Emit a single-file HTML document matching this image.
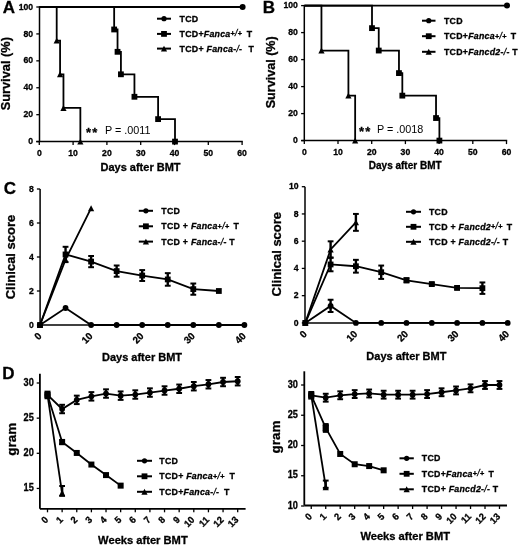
<!DOCTYPE html>
<html><head><meta charset="utf-8"><style>
html,body{margin:0;padding:0;background:#fff;}
svg{display:block;filter:blur(0.35px);}
text{font-family:"Liberation Sans", sans-serif;fill:#000;}
text[font-weight="bold"]{stroke:#000;stroke-width:0.3px;}
</style></head><body>
<svg width="520" height="545" viewBox="0 0 520 545">
<rect width="520" height="545" fill="#fff"/>
<text transform="translate(2.80 13.20)" font-size="17" font-weight="bold" text-anchor="start">A</text>
<line x1="39.50" y1="6.30" x2="39.50" y2="141.60" stroke="#000" stroke-width="1.5"/>
<line x1="36.30" y1="141.60" x2="39.50" y2="141.60" stroke="#000" stroke-width="1.3"/>
<text transform="translate(33.10 144.20) scale(0.96 1)" font-size="9.0" font-weight="bold" text-anchor="end">0</text>
<line x1="36.30" y1="114.68" x2="39.50" y2="114.68" stroke="#000" stroke-width="1.3"/>
<text transform="translate(33.10 117.28) scale(0.96 1)" font-size="9.0" font-weight="bold" text-anchor="end">20</text>
<line x1="36.30" y1="87.76" x2="39.50" y2="87.76" stroke="#000" stroke-width="1.3"/>
<text transform="translate(33.10 90.36) scale(0.96 1)" font-size="9.0" font-weight="bold" text-anchor="end">40</text>
<line x1="36.30" y1="60.84" x2="39.50" y2="60.84" stroke="#000" stroke-width="1.3"/>
<text transform="translate(33.10 63.44) scale(0.96 1)" font-size="9.0" font-weight="bold" text-anchor="end">60</text>
<line x1="36.30" y1="33.92" x2="39.50" y2="33.92" stroke="#000" stroke-width="1.3"/>
<text transform="translate(33.10 36.52) scale(0.96 1)" font-size="9.0" font-weight="bold" text-anchor="end">80</text>
<line x1="36.30" y1="7.00" x2="39.50" y2="7.00" stroke="#000" stroke-width="1.3"/>
<text transform="translate(33.10 9.60) scale(0.96 1)" font-size="9.0" font-weight="bold" text-anchor="end">100</text>
<line x1="36.30" y1="141.60" x2="242.80" y2="141.60" stroke="#000" stroke-width="1.5"/>
<line x1="39.30" y1="141.60" x2="39.30" y2="145.10" stroke="#000" stroke-width="1.3"/>
<text transform="translate(39.30 155.50) scale(0.96 1)" font-size="9.0" font-weight="bold" text-anchor="middle">0</text>
<line x1="73.10" y1="141.60" x2="73.10" y2="145.10" stroke="#000" stroke-width="1.3"/>
<text transform="translate(73.10 155.50) scale(0.96 1)" font-size="9.0" font-weight="bold" text-anchor="middle">10</text>
<line x1="106.90" y1="141.60" x2="106.90" y2="145.10" stroke="#000" stroke-width="1.3"/>
<text transform="translate(106.90 155.50) scale(0.96 1)" font-size="9.0" font-weight="bold" text-anchor="middle">20</text>
<line x1="140.70" y1="141.60" x2="140.70" y2="145.10" stroke="#000" stroke-width="1.3"/>
<text transform="translate(140.70 155.50) scale(0.96 1)" font-size="9.0" font-weight="bold" text-anchor="middle">30</text>
<line x1="174.50" y1="141.60" x2="174.50" y2="145.10" stroke="#000" stroke-width="1.3"/>
<text transform="translate(174.50 155.50) scale(0.96 1)" font-size="9.0" font-weight="bold" text-anchor="middle">40</text>
<line x1="208.30" y1="141.60" x2="208.30" y2="145.10" stroke="#000" stroke-width="1.3"/>
<text transform="translate(208.30 155.50) scale(0.96 1)" font-size="9.0" font-weight="bold" text-anchor="middle">50</text>
<line x1="242.10" y1="141.60" x2="242.10" y2="145.10" stroke="#000" stroke-width="1.3"/>
<text transform="translate(242.10 155.50) scale(0.96 1)" font-size="9.0" font-weight="bold" text-anchor="middle">60</text>
<text transform="translate(140.50 171.00)" font-size="11" font-weight="bold" text-anchor="middle">Days after BMT</text>
<text transform="translate(10.40 73.70) rotate(-90)" font-size="12.8" font-weight="bold" text-anchor="middle">Survival (%)</text>
<polyline points="39.30,7.00 242.10,7.00" fill="none" stroke="#000" stroke-width="1.8" stroke-linejoin="miter"/>
<circle cx="242.60" cy="7.00" r="3" fill="#000"/>
<polyline points="39.80,7.00 56.70,7.00 56.70,40.65 60.08,40.65 60.08,74.30 63.46,74.30 63.46,107.95 80.36,107.95 80.36,141.60" fill="none" stroke="#000" stroke-width="1.8" stroke-linejoin="miter"/>
<polygon points="53.60,43.59 59.80,43.59 56.70,37.70" fill="#000"/>
<polygon points="56.98,77.24 63.18,77.24 60.08,71.35" fill="#000"/>
<polygon points="60.36,110.89 66.56,110.89 63.46,105.00" fill="#000"/>
<polygon points="77.26,144.54 83.46,144.54 80.36,138.66" fill="#000"/>
<polyline points="39.80,7.00 114.16,7.00 114.16,29.48 117.54,29.48 117.54,51.82 120.92,51.82 120.92,74.30 134.44,74.30 134.44,96.78 158.10,96.78 158.10,119.12 175.00,119.12 175.00,141.60" fill="none" stroke="#000" stroke-width="1.8" stroke-linejoin="miter"/>
<rect x="111.26" y="26.58" width="5.8" height="5.8" fill="#000"/>
<rect x="114.64" y="48.92" width="5.8" height="5.8" fill="#000"/>
<rect x="118.02" y="71.40" width="5.8" height="5.8" fill="#000"/>
<rect x="131.54" y="93.88" width="5.8" height="5.8" fill="#000"/>
<rect x="155.20" y="116.22" width="5.8" height="5.8" fill="#000"/>
<rect x="172.10" y="138.70" width="5.8" height="5.8" fill="#000"/>
<text transform="translate(86.00 137.20)" font-size="13" font-weight="bold" text-anchor="start" letter-spacing="1.2">**</text>
<text transform="translate(105.00 133.80)" font-size="10.8" font-weight="normal" text-anchor="start">P = .0011</text>
<line x1="157.00" y1="18.70" x2="171.00" y2="18.70" stroke="#000" stroke-width="2.0"/>
<circle cx="164.00" cy="18.70" r="2.6" fill="#000"/>
<text transform="translate(179.60 21.60)" font-size="8.8" font-weight="bold" text-anchor="start" letter-spacing="0.25">TCD</text>
<line x1="157.00" y1="33.90" x2="171.00" y2="33.90" stroke="#000" stroke-width="2.0"/>
<rect x="161.10" y="31.00" width="5.8" height="5.8" fill="#000"/>
<text transform="translate(179.60 36.80)" font-size="8.8" font-weight="bold" text-anchor="start" letter-spacing="0.25">TCD+<tspan font-style="italic">Fanca</tspan><tspan font-size="7.4" dy="-0.5">+</tspan><tspan font-style="italic" font-weight="normal">/</tspan><tspan font-size="7.4">+</tspan><tspan dy="0.5"> </tspan><tspan dx="1.6">T</tspan></text>
<line x1="157.00" y1="48.60" x2="171.00" y2="48.60" stroke="#000" stroke-width="2.0"/>
<polygon points="160.90,51.55 167.10,51.55 164.00,45.66" fill="#000"/>
<text transform="translate(179.60 51.50)" font-size="8.8" font-weight="bold" text-anchor="start" letter-spacing="0.25">TCD+ <tspan font-style="italic">Fanca</tspan>-<tspan font-style="italic" font-weight="normal">/</tspan>- <tspan dx="3.6">T</tspan></text>
<text transform="translate(262.80 13.20)" font-size="17" font-weight="bold" text-anchor="start">B</text>
<line x1="304.30" y1="4.90" x2="304.30" y2="140.60" stroke="#000" stroke-width="1.5"/>
<line x1="301.10" y1="140.60" x2="304.30" y2="140.60" stroke="#000" stroke-width="1.3"/>
<text transform="translate(297.90 143.20) scale(0.96 1)" font-size="9.0" font-weight="bold" text-anchor="end">0</text>
<line x1="301.10" y1="113.60" x2="304.30" y2="113.60" stroke="#000" stroke-width="1.3"/>
<text transform="translate(297.90 116.20) scale(0.96 1)" font-size="9.0" font-weight="bold" text-anchor="end">20</text>
<line x1="301.10" y1="86.60" x2="304.30" y2="86.60" stroke="#000" stroke-width="1.3"/>
<text transform="translate(297.90 89.20) scale(0.96 1)" font-size="9.0" font-weight="bold" text-anchor="end">40</text>
<line x1="301.10" y1="59.60" x2="304.30" y2="59.60" stroke="#000" stroke-width="1.3"/>
<text transform="translate(297.90 62.20) scale(0.96 1)" font-size="9.0" font-weight="bold" text-anchor="end">60</text>
<line x1="301.10" y1="32.60" x2="304.30" y2="32.60" stroke="#000" stroke-width="1.3"/>
<text transform="translate(297.90 35.20) scale(0.96 1)" font-size="9.0" font-weight="bold" text-anchor="end">80</text>
<line x1="301.10" y1="5.60" x2="304.30" y2="5.60" stroke="#000" stroke-width="1.3"/>
<text transform="translate(297.90 8.20) scale(0.96 1)" font-size="9.0" font-weight="bold" text-anchor="end">100</text>
<line x1="301.30" y1="140.60" x2="507.20" y2="140.60" stroke="#000" stroke-width="1.5"/>
<line x1="304.30" y1="140.60" x2="304.30" y2="144.10" stroke="#000" stroke-width="1.3"/>
<text transform="translate(304.30 154.50) scale(0.96 1)" font-size="9.0" font-weight="bold" text-anchor="middle">0</text>
<line x1="338.00" y1="140.60" x2="338.00" y2="144.10" stroke="#000" stroke-width="1.3"/>
<text transform="translate(338.00 154.50) scale(0.96 1)" font-size="9.0" font-weight="bold" text-anchor="middle">10</text>
<line x1="371.70" y1="140.60" x2="371.70" y2="144.10" stroke="#000" stroke-width="1.3"/>
<text transform="translate(371.70 154.50) scale(0.96 1)" font-size="9.0" font-weight="bold" text-anchor="middle">20</text>
<line x1="405.40" y1="140.60" x2="405.40" y2="144.10" stroke="#000" stroke-width="1.3"/>
<text transform="translate(405.40 154.50) scale(0.96 1)" font-size="9.0" font-weight="bold" text-anchor="middle">30</text>
<line x1="439.10" y1="140.60" x2="439.10" y2="144.10" stroke="#000" stroke-width="1.3"/>
<text transform="translate(439.10 154.50) scale(0.96 1)" font-size="9.0" font-weight="bold" text-anchor="middle">40</text>
<line x1="472.80" y1="140.60" x2="472.80" y2="144.10" stroke="#000" stroke-width="1.3"/>
<text transform="translate(472.80 154.50) scale(0.96 1)" font-size="9.0" font-weight="bold" text-anchor="middle">50</text>
<line x1="506.50" y1="140.60" x2="506.50" y2="144.10" stroke="#000" stroke-width="1.3"/>
<text transform="translate(506.50 154.50) scale(0.96 1)" font-size="9.0" font-weight="bold" text-anchor="middle">60</text>
<text transform="translate(405.20 169.40)" font-size="10" font-weight="bold" text-anchor="middle">Days after BMT</text>
<text transform="translate(274.70 72.30) rotate(-90)" font-size="12.6" font-weight="bold" text-anchor="middle">Survival (%)</text>
<polyline points="304.30,5.60 506.50,5.60" fill="none" stroke="#000" stroke-width="1.8" stroke-linejoin="miter"/>
<circle cx="507.00" cy="5.60" r="3" fill="#000"/>
<polyline points="304.60,5.60 321.45,5.60 321.45,50.55 348.41,50.55 348.41,95.64 355.15,95.64 355.15,140.60" fill="none" stroke="#000" stroke-width="1.8" stroke-linejoin="miter"/>
<polygon points="318.35,53.50 324.55,53.50 321.45,47.61" fill="#000"/>
<polygon points="345.31,98.59 351.51,98.59 348.41,92.70" fill="#000"/>
<polygon points="352.05,143.54 358.25,143.54 355.15,137.66" fill="#000"/>
<polyline points="304.60,5.60 372.00,5.60 372.00,28.14 378.74,28.14 378.74,50.55 398.96,50.55 398.96,73.10 402.33,73.10 402.33,95.64 436.03,95.64 436.03,118.05 439.40,118.05 439.40,140.60" fill="none" stroke="#000" stroke-width="1.8" stroke-linejoin="miter"/>
<rect x="369.10" y="25.24" width="5.8" height="5.8" fill="#000"/>
<rect x="375.84" y="47.65" width="5.8" height="5.8" fill="#000"/>
<rect x="396.06" y="70.20" width="5.8" height="5.8" fill="#000"/>
<rect x="399.43" y="92.74" width="5.8" height="5.8" fill="#000"/>
<rect x="433.13" y="115.15" width="5.8" height="5.8" fill="#000"/>
<rect x="436.50" y="137.70" width="5.8" height="5.8" fill="#000"/>
<text transform="translate(359.00 135.90)" font-size="13" font-weight="bold" text-anchor="start" letter-spacing="1.2">**</text>
<text transform="translate(377.00 132.50)" font-size="10.8" font-weight="normal" text-anchor="start">P = .0018</text>
<line x1="422.00" y1="20.70" x2="435.50" y2="20.70" stroke="#000" stroke-width="2.0"/>
<circle cx="428.75" cy="20.70" r="2.6" fill="#000"/>
<text transform="translate(444.00 23.60)" font-size="8.8" font-weight="bold" text-anchor="start" letter-spacing="0.25">TCD</text>
<line x1="422.00" y1="36.20" x2="435.50" y2="36.20" stroke="#000" stroke-width="2.0"/>
<rect x="425.85" y="33.30" width="5.8" height="5.8" fill="#000"/>
<text transform="translate(444.00 39.10)" font-size="8.8" font-weight="bold" text-anchor="start" letter-spacing="0.25">TCD+<tspan font-style="italic">Fanca</tspan><tspan font-size="7.4" dy="-0.5">+</tspan><tspan font-style="italic" font-weight="normal">/</tspan><tspan font-size="7.4">+</tspan><tspan dy="0.5"> </tspan><tspan dx="1.3">T</tspan></text>
<line x1="422.00" y1="51.80" x2="435.50" y2="51.80" stroke="#000" stroke-width="2.0"/>
<polygon points="425.65,54.74 431.85,54.74 428.75,48.85" fill="#000"/>
<text transform="translate(444.00 54.70)" font-size="8.8" font-weight="bold" text-anchor="start" letter-spacing="0.25">TCD+<tspan font-style="italic">Fancd2</tspan>-<tspan font-style="italic" font-weight="normal">/</tspan>- T</text>
<text transform="translate(3.70 194.20)" font-size="17" font-weight="bold" text-anchor="start">C</text>
<line x1="40.10" y1="189.00" x2="40.10" y2="325.00" stroke="#000" stroke-width="1.5"/>
<line x1="36.90" y1="325.00" x2="40.10" y2="325.00" stroke="#000" stroke-width="1.3"/>
<text transform="translate(33.70 327.60) scale(0.96 1)" font-size="9.0" font-weight="bold" text-anchor="end">0</text>
<line x1="36.90" y1="291.00" x2="40.10" y2="291.00" stroke="#000" stroke-width="1.3"/>
<text transform="translate(33.70 293.60) scale(0.96 1)" font-size="9.0" font-weight="bold" text-anchor="end">2</text>
<line x1="36.90" y1="257.00" x2="40.10" y2="257.00" stroke="#000" stroke-width="1.3"/>
<text transform="translate(33.70 259.60) scale(0.96 1)" font-size="9.0" font-weight="bold" text-anchor="end">4</text>
<line x1="36.90" y1="223.00" x2="40.10" y2="223.00" stroke="#000" stroke-width="1.3"/>
<text transform="translate(33.70 225.60) scale(0.96 1)" font-size="9.0" font-weight="bold" text-anchor="end">6</text>
<line x1="36.90" y1="189.00" x2="40.10" y2="189.00" stroke="#000" stroke-width="1.3"/>
<text transform="translate(33.70 191.60) scale(0.96 1)" font-size="9.0" font-weight="bold" text-anchor="end">8</text>
<line x1="40.10" y1="325.00" x2="245.40" y2="325.00" stroke="#000" stroke-width="1.5"/>
<text transform="translate(42.20 336.70) rotate(-45) scale(0.96 1)" font-size="10" font-weight="bold" text-anchor="end">0</text>
<text transform="translate(93.30 336.70) rotate(-45) scale(0.96 1)" font-size="10" font-weight="bold" text-anchor="end">10</text>
<text transform="translate(144.40 336.70) rotate(-45) scale(0.96 1)" font-size="10" font-weight="bold" text-anchor="end">20</text>
<text transform="translate(195.50 336.70) rotate(-45) scale(0.96 1)" font-size="10" font-weight="bold" text-anchor="end">30</text>
<text transform="translate(246.60 336.70) rotate(-45) scale(0.96 1)" font-size="10" font-weight="bold" text-anchor="end">40</text>
<text transform="translate(142.00 361.30)" font-size="11" font-weight="bold" text-anchor="middle">Days after BMT</text>
<text transform="translate(14.80 257.00) rotate(-90)" font-size="13" font-weight="bold" text-anchor="middle">Clinical score</text>
<polyline points="40.00,325.00 65.55,308.00 91.10,325.00 116.65,325.00 142.20,325.00 167.75,325.00 193.30,325.00 218.85,325.00 244.40,325.00" fill="none" stroke="#000" stroke-width="1.8" stroke-linejoin="miter"/>
<circle cx="40.00" cy="325.00" r="2.9" fill="#000"/>
<circle cx="65.55" cy="308.00" r="2.9" fill="#000"/>
<circle cx="91.10" cy="325.00" r="2.9" fill="#000"/>
<circle cx="116.65" cy="325.00" r="2.9" fill="#000"/>
<circle cx="142.20" cy="325.00" r="2.9" fill="#000"/>
<circle cx="167.75" cy="325.00" r="2.9" fill="#000"/>
<circle cx="193.30" cy="325.00" r="2.9" fill="#000"/>
<circle cx="218.85" cy="325.00" r="2.9" fill="#000"/>
<circle cx="244.40" cy="325.00" r="2.9" fill="#000"/>
<polyline points="40.00,325.00 65.55,254.45 91.10,261.59 116.65,271.11 142.20,275.53 167.75,279.44 193.30,289.13 218.85,291.00" fill="none" stroke="#000" stroke-width="1.8" stroke-linejoin="miter"/>
<rect x="37.10" y="322.10" width="5.8" height="5.8" fill="#000"/>
<line x1="65.55" y1="246.80" x2="65.55" y2="262.10" stroke="#000" stroke-width="2.4"/>
<line x1="62.65" y1="246.80" x2="68.45" y2="246.80" stroke="#000" stroke-width="2.0"/>
<line x1="62.65" y1="262.10" x2="68.45" y2="262.10" stroke="#000" stroke-width="2.0"/>
<rect x="62.65" y="251.55" width="5.8" height="5.8" fill="#000"/>
<line x1="91.10" y1="255.98" x2="91.10" y2="267.20" stroke="#000" stroke-width="2.4"/>
<line x1="88.20" y1="255.98" x2="94.00" y2="255.98" stroke="#000" stroke-width="2.0"/>
<line x1="88.20" y1="267.20" x2="94.00" y2="267.20" stroke="#000" stroke-width="2.0"/>
<rect x="88.20" y="258.69" width="5.8" height="5.8" fill="#000"/>
<line x1="116.65" y1="265.50" x2="116.65" y2="276.72" stroke="#000" stroke-width="2.4"/>
<line x1="113.75" y1="265.50" x2="119.55" y2="265.50" stroke="#000" stroke-width="2.0"/>
<line x1="113.75" y1="276.72" x2="119.55" y2="276.72" stroke="#000" stroke-width="2.0"/>
<rect x="113.75" y="268.21" width="5.8" height="5.8" fill="#000"/>
<line x1="142.20" y1="270.09" x2="142.20" y2="280.97" stroke="#000" stroke-width="2.4"/>
<line x1="139.30" y1="270.09" x2="145.10" y2="270.09" stroke="#000" stroke-width="2.0"/>
<line x1="139.30" y1="280.97" x2="145.10" y2="280.97" stroke="#000" stroke-width="2.0"/>
<rect x="139.30" y="272.63" width="5.8" height="5.8" fill="#000"/>
<line x1="167.75" y1="273.15" x2="167.75" y2="285.73" stroke="#000" stroke-width="2.4"/>
<line x1="164.85" y1="273.15" x2="170.65" y2="273.15" stroke="#000" stroke-width="2.0"/>
<line x1="164.85" y1="285.73" x2="170.65" y2="285.73" stroke="#000" stroke-width="2.0"/>
<rect x="164.85" y="276.54" width="5.8" height="5.8" fill="#000"/>
<line x1="193.30" y1="283.52" x2="193.30" y2="294.74" stroke="#000" stroke-width="2.4"/>
<line x1="190.40" y1="283.52" x2="196.20" y2="283.52" stroke="#000" stroke-width="2.0"/>
<line x1="190.40" y1="294.74" x2="196.20" y2="294.74" stroke="#000" stroke-width="2.0"/>
<rect x="190.40" y="286.23" width="5.8" height="5.8" fill="#000"/>
<rect x="215.95" y="288.10" width="5.8" height="5.8" fill="#000"/>
<polyline points="40.00,325.00 65.55,259.55 91.10,208.21" fill="none" stroke="#000" stroke-width="1.8" stroke-linejoin="miter"/>
<polygon points="36.90,327.94 43.10,327.94 40.00,322.06" fill="#000"/>
<polygon points="62.45,262.50 68.65,262.50 65.55,256.61" fill="#000"/>
<polygon points="88.00,211.15 94.20,211.15 91.10,205.26" fill="#000"/>
<line x1="138.80" y1="210.80" x2="153.00" y2="210.80" stroke="#000" stroke-width="2.0"/>
<circle cx="145.90" cy="210.80" r="2.6" fill="#000"/>
<text transform="translate(161.30 213.70)" font-size="8.8" font-weight="bold" text-anchor="start" letter-spacing="0.25">TCD</text>
<line x1="138.80" y1="226.30" x2="153.00" y2="226.30" stroke="#000" stroke-width="2.0"/>
<rect x="143.00" y="223.40" width="5.8" height="5.8" fill="#000"/>
<text transform="translate(161.30 229.20)" font-size="8.8" font-weight="bold" text-anchor="start" letter-spacing="0.25">TCD + <tspan font-style="italic">Fanca</tspan><tspan font-size="7.4" dy="-0.5">+</tspan><tspan font-style="italic" font-weight="normal">/</tspan><tspan font-size="7.4">+</tspan><tspan dy="0.5"> </tspan><tspan dx="1.3">T</tspan></text>
<line x1="138.80" y1="241.60" x2="153.00" y2="241.60" stroke="#000" stroke-width="2.0"/>
<polygon points="142.80,244.54 149.00,244.54 145.90,238.66" fill="#000"/>
<text transform="translate(161.30 244.50)" font-size="8.8" font-weight="bold" text-anchor="start" letter-spacing="0.25">TCD + <tspan font-style="italic">Fanca</tspan>-<tspan font-style="italic" font-weight="normal">/</tspan>- T</text>
<line x1="305.00" y1="186.70" x2="305.00" y2="322.90" stroke="#000" stroke-width="1.5"/>
<line x1="301.80" y1="322.90" x2="305.00" y2="322.90" stroke="#000" stroke-width="1.3"/>
<text transform="translate(298.60 325.50) scale(0.96 1)" font-size="9.0" font-weight="bold" text-anchor="end">0</text>
<line x1="301.80" y1="295.66" x2="305.00" y2="295.66" stroke="#000" stroke-width="1.3"/>
<text transform="translate(298.60 298.26) scale(0.96 1)" font-size="9.0" font-weight="bold" text-anchor="end">2</text>
<line x1="301.80" y1="268.42" x2="305.00" y2="268.42" stroke="#000" stroke-width="1.3"/>
<text transform="translate(298.60 271.02) scale(0.96 1)" font-size="9.0" font-weight="bold" text-anchor="end">4</text>
<line x1="301.80" y1="241.18" x2="305.00" y2="241.18" stroke="#000" stroke-width="1.3"/>
<text transform="translate(298.60 243.78) scale(0.96 1)" font-size="9.0" font-weight="bold" text-anchor="end">6</text>
<line x1="301.80" y1="213.94" x2="305.00" y2="213.94" stroke="#000" stroke-width="1.3"/>
<text transform="translate(298.60 216.54) scale(0.96 1)" font-size="9.0" font-weight="bold" text-anchor="end">8</text>
<line x1="301.80" y1="186.70" x2="305.00" y2="186.70" stroke="#000" stroke-width="1.3"/>
<text transform="translate(298.60 189.30) scale(0.96 1)" font-size="9.0" font-weight="bold" text-anchor="end">10</text>
<line x1="305.00" y1="322.90" x2="508.70" y2="322.90" stroke="#000" stroke-width="1.5"/>
<text transform="translate(307.50 334.60) rotate(-45) scale(0.96 1)" font-size="10" font-weight="bold" text-anchor="end">0</text>
<text transform="translate(358.10 334.60) rotate(-45) scale(0.96 1)" font-size="10" font-weight="bold" text-anchor="end">10</text>
<text transform="translate(408.70 334.60) rotate(-45) scale(0.96 1)" font-size="10" font-weight="bold" text-anchor="end">20</text>
<text transform="translate(459.30 334.60) rotate(-45) scale(0.96 1)" font-size="10" font-weight="bold" text-anchor="end">30</text>
<text transform="translate(509.90 334.60) rotate(-45) scale(0.96 1)" font-size="10" font-weight="bold" text-anchor="end">40</text>
<text transform="translate(406.40 359.70)" font-size="11" font-weight="bold" text-anchor="middle">Days after BMT</text>
<text transform="translate(281.30 254.20) rotate(-90)" font-size="13" font-weight="bold" text-anchor="middle">Clinical score</text>
<polyline points="305.30,322.90 330.60,305.88 355.90,322.90 381.20,322.90 406.50,322.90 431.80,322.90 457.10,322.90 482.40,322.90 507.70,322.90" fill="none" stroke="#000" stroke-width="1.8" stroke-linejoin="miter"/>
<line x1="330.60" y1="299.75" x2="330.60" y2="312.00" stroke="#000" stroke-width="2.4"/>
<line x1="327.70" y1="299.75" x2="333.50" y2="299.75" stroke="#000" stroke-width="2.0"/>
<line x1="327.70" y1="312.00" x2="333.50" y2="312.00" stroke="#000" stroke-width="2.0"/>
<circle cx="305.30" cy="322.90" r="2.9" fill="#000"/>
<circle cx="330.60" cy="305.88" r="2.9" fill="#000"/>
<circle cx="355.90" cy="322.90" r="2.9" fill="#000"/>
<circle cx="381.20" cy="322.90" r="2.9" fill="#000"/>
<circle cx="406.50" cy="322.90" r="2.9" fill="#000"/>
<circle cx="431.80" cy="322.90" r="2.9" fill="#000"/>
<circle cx="457.10" cy="322.90" r="2.9" fill="#000"/>
<circle cx="482.40" cy="322.90" r="2.9" fill="#000"/>
<circle cx="507.70" cy="322.90" r="2.9" fill="#000"/>
<polyline points="305.30,322.90 330.60,264.47 355.90,266.24 381.20,272.23 406.50,280.27 431.80,284.08 457.10,287.90 482.40,288.17" fill="none" stroke="#000" stroke-width="1.8" stroke-linejoin="miter"/>
<rect x="302.40" y="320.00" width="5.8" height="5.8" fill="#000"/>
<line x1="330.60" y1="257.66" x2="330.60" y2="271.28" stroke="#000" stroke-width="2.4"/>
<line x1="327.70" y1="257.66" x2="333.50" y2="257.66" stroke="#000" stroke-width="2.0"/>
<line x1="327.70" y1="271.28" x2="333.50" y2="271.28" stroke="#000" stroke-width="2.0"/>
<rect x="327.70" y="261.57" width="5.8" height="5.8" fill="#000"/>
<line x1="355.90" y1="259.84" x2="355.90" y2="272.64" stroke="#000" stroke-width="2.4"/>
<line x1="353.00" y1="259.84" x2="358.80" y2="259.84" stroke="#000" stroke-width="2.0"/>
<line x1="353.00" y1="272.64" x2="358.80" y2="272.64" stroke="#000" stroke-width="2.0"/>
<rect x="353.00" y="263.34" width="5.8" height="5.8" fill="#000"/>
<line x1="381.20" y1="265.56" x2="381.20" y2="278.91" stroke="#000" stroke-width="2.4"/>
<line x1="378.30" y1="265.56" x2="384.10" y2="265.56" stroke="#000" stroke-width="2.0"/>
<line x1="378.30" y1="278.91" x2="384.10" y2="278.91" stroke="#000" stroke-width="2.0"/>
<rect x="378.30" y="269.33" width="5.8" height="5.8" fill="#000"/>
<line x1="406.50" y1="278.23" x2="406.50" y2="282.31" stroke="#000" stroke-width="2.4"/>
<line x1="403.60" y1="278.23" x2="409.40" y2="278.23" stroke="#000" stroke-width="2.0"/>
<line x1="403.60" y1="282.31" x2="409.40" y2="282.31" stroke="#000" stroke-width="2.0"/>
<rect x="403.60" y="277.37" width="5.8" height="5.8" fill="#000"/>
<line x1="431.80" y1="282.72" x2="431.80" y2="285.44" stroke="#000" stroke-width="2.4"/>
<line x1="428.90" y1="282.72" x2="434.70" y2="282.72" stroke="#000" stroke-width="2.0"/>
<line x1="428.90" y1="285.44" x2="434.70" y2="285.44" stroke="#000" stroke-width="2.0"/>
<rect x="428.90" y="281.18" width="5.8" height="5.8" fill="#000"/>
<line x1="457.10" y1="286.53" x2="457.10" y2="289.26" stroke="#000" stroke-width="2.4"/>
<line x1="454.20" y1="286.53" x2="460.00" y2="286.53" stroke="#000" stroke-width="2.0"/>
<line x1="454.20" y1="289.26" x2="460.00" y2="289.26" stroke="#000" stroke-width="2.0"/>
<rect x="454.20" y="285.00" width="5.8" height="5.8" fill="#000"/>
<line x1="482.40" y1="282.45" x2="482.40" y2="293.89" stroke="#000" stroke-width="2.4"/>
<line x1="479.50" y1="282.45" x2="485.30" y2="282.45" stroke="#000" stroke-width="2.0"/>
<line x1="479.50" y1="293.89" x2="485.30" y2="293.89" stroke="#000" stroke-width="2.0"/>
<rect x="479.50" y="285.27" width="5.8" height="5.8" fill="#000"/>
<polyline points="305.30,322.90 330.60,249.49 355.90,222.38" fill="none" stroke="#000" stroke-width="1.8" stroke-linejoin="miter"/>
<polygon points="302.20,325.84 308.40,325.84 305.30,319.95" fill="#000"/>
<line x1="330.60" y1="241.32" x2="330.60" y2="257.66" stroke="#000" stroke-width="2.4"/>
<line x1="327.70" y1="241.32" x2="333.50" y2="241.32" stroke="#000" stroke-width="2.0"/>
<line x1="327.70" y1="257.66" x2="333.50" y2="257.66" stroke="#000" stroke-width="2.0"/>
<polygon points="327.50,252.43 333.70,252.43 330.60,246.54" fill="#000"/>
<line x1="355.90" y1="213.94" x2="355.90" y2="230.83" stroke="#000" stroke-width="2.4"/>
<line x1="353.00" y1="213.94" x2="358.80" y2="213.94" stroke="#000" stroke-width="2.0"/>
<line x1="353.00" y1="230.83" x2="358.80" y2="230.83" stroke="#000" stroke-width="2.0"/>
<polygon points="352.80,225.33 359.00,225.33 355.90,219.44" fill="#000"/>
<line x1="406.00" y1="211.80" x2="421.00" y2="211.80" stroke="#000" stroke-width="2.0"/>
<circle cx="413.50" cy="211.80" r="2.6" fill="#000"/>
<text transform="translate(429.00 214.70)" font-size="8.8" font-weight="bold" text-anchor="start" letter-spacing="0.25">TCD</text>
<line x1="406.00" y1="226.80" x2="421.00" y2="226.80" stroke="#000" stroke-width="2.0"/>
<rect x="410.60" y="223.90" width="5.8" height="5.8" fill="#000"/>
<text transform="translate(429.00 229.70)" font-size="8.8" font-weight="bold" text-anchor="start" letter-spacing="0.25">TCD + <tspan font-style="italic">Fancd2</tspan><tspan font-size="7.4" dy="-0.5">+</tspan><tspan font-style="italic" font-weight="normal">/</tspan><tspan font-size="7.4">+</tspan><tspan dy="0.5"> </tspan><tspan dx="1.3">T</tspan></text>
<line x1="406.00" y1="241.80" x2="421.00" y2="241.80" stroke="#000" stroke-width="2.0"/>
<polygon points="410.40,244.75 416.60,244.75 413.50,238.86" fill="#000"/>
<text transform="translate(429.00 244.70)" font-size="8.8" font-weight="bold" text-anchor="start" letter-spacing="0.25">TCD + <tspan font-style="italic">Fancd2</tspan>-<tspan font-style="italic" font-weight="normal">/</tspan>- T</text>
<text transform="translate(2.20 379.30)" font-size="17" font-weight="bold" text-anchor="start">D</text>
<line x1="39.90" y1="373.70" x2="39.90" y2="508.80" stroke="#000" stroke-width="1.8"/>
<line x1="36.70" y1="488.45" x2="39.90" y2="488.45" stroke="#000" stroke-width="1.3"/>
<text transform="translate(33.80 491.05) scale(0.92 1)" font-size="10" font-weight="bold" text-anchor="end">15</text>
<line x1="36.70" y1="453.30" x2="39.90" y2="453.30" stroke="#000" stroke-width="1.3"/>
<text transform="translate(33.80 455.90) scale(0.92 1)" font-size="10" font-weight="bold" text-anchor="end">20</text>
<line x1="36.70" y1="418.15" x2="39.90" y2="418.15" stroke="#000" stroke-width="1.3"/>
<text transform="translate(33.80 420.75) scale(0.92 1)" font-size="10" font-weight="bold" text-anchor="end">25</text>
<line x1="36.70" y1="383.00" x2="39.90" y2="383.00" stroke="#000" stroke-width="1.3"/>
<text transform="translate(33.80 385.60) scale(0.92 1)" font-size="10" font-weight="bold" text-anchor="end">30</text>
<line x1="39.90" y1="508.80" x2="245.60" y2="508.80" stroke="#000" stroke-width="1.8"/>
<line x1="47.50" y1="508.80" x2="47.50" y2="512.30" stroke="#000" stroke-width="1.3"/>
<text transform="translate(48.90 520.50) rotate(-45) scale(0.96 1)" font-size="9.6" font-weight="bold" text-anchor="end">0</text>
<line x1="62.13" y1="508.80" x2="62.13" y2="512.30" stroke="#000" stroke-width="1.3"/>
<text transform="translate(63.53 520.50) rotate(-45) scale(0.96 1)" font-size="9.6" font-weight="bold" text-anchor="end">1</text>
<line x1="76.76" y1="508.80" x2="76.76" y2="512.30" stroke="#000" stroke-width="1.3"/>
<text transform="translate(78.16 520.50) rotate(-45) scale(0.96 1)" font-size="9.6" font-weight="bold" text-anchor="end">2</text>
<line x1="91.39" y1="508.80" x2="91.39" y2="512.30" stroke="#000" stroke-width="1.3"/>
<text transform="translate(92.79 520.50) rotate(-45) scale(0.96 1)" font-size="9.6" font-weight="bold" text-anchor="end">3</text>
<line x1="106.02" y1="508.80" x2="106.02" y2="512.30" stroke="#000" stroke-width="1.3"/>
<text transform="translate(107.42 520.50) rotate(-45) scale(0.96 1)" font-size="9.6" font-weight="bold" text-anchor="end">4</text>
<line x1="120.65" y1="508.80" x2="120.65" y2="512.30" stroke="#000" stroke-width="1.3"/>
<text transform="translate(122.05 520.50) rotate(-45) scale(0.96 1)" font-size="9.6" font-weight="bold" text-anchor="end">5</text>
<line x1="135.28" y1="508.80" x2="135.28" y2="512.30" stroke="#000" stroke-width="1.3"/>
<text transform="translate(136.68 520.50) rotate(-45) scale(0.96 1)" font-size="9.6" font-weight="bold" text-anchor="end">6</text>
<line x1="149.91" y1="508.80" x2="149.91" y2="512.30" stroke="#000" stroke-width="1.3"/>
<text transform="translate(151.31 520.50) rotate(-45) scale(0.96 1)" font-size="9.6" font-weight="bold" text-anchor="end">7</text>
<line x1="164.54" y1="508.80" x2="164.54" y2="512.30" stroke="#000" stroke-width="1.3"/>
<text transform="translate(165.94 520.50) rotate(-45) scale(0.96 1)" font-size="9.6" font-weight="bold" text-anchor="end">8</text>
<line x1="179.17" y1="508.80" x2="179.17" y2="512.30" stroke="#000" stroke-width="1.3"/>
<text transform="translate(180.57 520.50) rotate(-45) scale(0.96 1)" font-size="9.6" font-weight="bold" text-anchor="end">9</text>
<line x1="193.80" y1="508.80" x2="193.80" y2="512.30" stroke="#000" stroke-width="1.3"/>
<text transform="translate(195.20 520.50) rotate(-45) scale(0.96 1)" font-size="9.6" font-weight="bold" text-anchor="end">10</text>
<line x1="208.43" y1="508.80" x2="208.43" y2="512.30" stroke="#000" stroke-width="1.3"/>
<text transform="translate(209.83 520.50) rotate(-45) scale(0.96 1)" font-size="9.6" font-weight="bold" text-anchor="end">11</text>
<line x1="223.06" y1="508.80" x2="223.06" y2="512.30" stroke="#000" stroke-width="1.3"/>
<text transform="translate(224.46 520.50) rotate(-45) scale(0.96 1)" font-size="9.6" font-weight="bold" text-anchor="end">12</text>
<line x1="237.69" y1="508.80" x2="237.69" y2="512.30" stroke="#000" stroke-width="1.3"/>
<text transform="translate(239.09 520.50) rotate(-45) scale(0.96 1)" font-size="9.6" font-weight="bold" text-anchor="end">13</text>
<text transform="translate(142.90 543.60)" font-size="11.15" font-weight="bold" text-anchor="middle">Weeks after BMT</text>
<text transform="translate(15.70 439.30) rotate(-90)" font-size="13.5" font-weight="bold" text-anchor="middle">gram</text>
<polyline points="47.50,394.95 62.13,409.01 76.76,399.87 91.39,396.36 106.02,393.55 120.65,395.65 135.28,394.53 149.91,392.56 164.54,390.52 179.17,388.76 193.80,386.23 208.43,384.27 223.06,382.02 237.69,381.24" fill="none" stroke="#000" stroke-width="1.8" stroke-linejoin="miter"/>
<circle cx="47.50" cy="394.95" r="2.9" fill="#000"/>
<line x1="62.13" y1="404.79" x2="62.13" y2="413.23" stroke="#000" stroke-width="2.4"/>
<line x1="59.23" y1="404.79" x2="65.03" y2="404.79" stroke="#000" stroke-width="2.0"/>
<line x1="59.23" y1="413.23" x2="65.03" y2="413.23" stroke="#000" stroke-width="2.0"/>
<circle cx="62.13" cy="409.01" r="2.9" fill="#000"/>
<line x1="76.76" y1="395.65" x2="76.76" y2="404.09" stroke="#000" stroke-width="2.4"/>
<line x1="73.86" y1="395.65" x2="79.66" y2="395.65" stroke="#000" stroke-width="2.0"/>
<line x1="73.86" y1="404.09" x2="79.66" y2="404.09" stroke="#000" stroke-width="2.0"/>
<circle cx="76.76" cy="399.87" r="2.9" fill="#000"/>
<line x1="91.39" y1="392.14" x2="91.39" y2="400.57" stroke="#000" stroke-width="2.4"/>
<line x1="88.49" y1="392.14" x2="94.29" y2="392.14" stroke="#000" stroke-width="2.0"/>
<line x1="88.49" y1="400.57" x2="94.29" y2="400.57" stroke="#000" stroke-width="2.0"/>
<circle cx="91.39" cy="396.36" r="2.9" fill="#000"/>
<line x1="106.02" y1="389.33" x2="106.02" y2="397.76" stroke="#000" stroke-width="2.4"/>
<line x1="103.12" y1="389.33" x2="108.92" y2="389.33" stroke="#000" stroke-width="2.0"/>
<line x1="103.12" y1="397.76" x2="108.92" y2="397.76" stroke="#000" stroke-width="2.0"/>
<circle cx="106.02" cy="393.55" r="2.9" fill="#000"/>
<line x1="120.65" y1="391.44" x2="120.65" y2="399.87" stroke="#000" stroke-width="2.4"/>
<line x1="117.75" y1="391.44" x2="123.55" y2="391.44" stroke="#000" stroke-width="2.0"/>
<line x1="117.75" y1="399.87" x2="123.55" y2="399.87" stroke="#000" stroke-width="2.0"/>
<circle cx="120.65" cy="395.65" r="2.9" fill="#000"/>
<line x1="135.28" y1="390.31" x2="135.28" y2="398.75" stroke="#000" stroke-width="2.4"/>
<line x1="132.38" y1="390.31" x2="138.18" y2="390.31" stroke="#000" stroke-width="2.0"/>
<line x1="132.38" y1="398.75" x2="138.18" y2="398.75" stroke="#000" stroke-width="2.0"/>
<circle cx="135.28" cy="394.53" r="2.9" fill="#000"/>
<line x1="149.91" y1="388.34" x2="149.91" y2="396.78" stroke="#000" stroke-width="2.4"/>
<line x1="147.01" y1="388.34" x2="152.81" y2="388.34" stroke="#000" stroke-width="2.0"/>
<line x1="147.01" y1="396.78" x2="152.81" y2="396.78" stroke="#000" stroke-width="2.0"/>
<circle cx="149.91" cy="392.56" r="2.9" fill="#000"/>
<line x1="164.54" y1="386.30" x2="164.54" y2="394.74" stroke="#000" stroke-width="2.4"/>
<line x1="161.64" y1="386.30" x2="167.44" y2="386.30" stroke="#000" stroke-width="2.0"/>
<line x1="161.64" y1="394.74" x2="167.44" y2="394.74" stroke="#000" stroke-width="2.0"/>
<circle cx="164.54" cy="390.52" r="2.9" fill="#000"/>
<line x1="179.17" y1="384.55" x2="179.17" y2="392.98" stroke="#000" stroke-width="2.4"/>
<line x1="176.27" y1="384.55" x2="182.07" y2="384.55" stroke="#000" stroke-width="2.0"/>
<line x1="176.27" y1="392.98" x2="182.07" y2="392.98" stroke="#000" stroke-width="2.0"/>
<circle cx="179.17" cy="388.76" r="2.9" fill="#000"/>
<line x1="193.80" y1="382.02" x2="193.80" y2="390.45" stroke="#000" stroke-width="2.4"/>
<line x1="190.90" y1="382.02" x2="196.70" y2="382.02" stroke="#000" stroke-width="2.0"/>
<line x1="190.90" y1="390.45" x2="196.70" y2="390.45" stroke="#000" stroke-width="2.0"/>
<circle cx="193.80" cy="386.23" r="2.9" fill="#000"/>
<line x1="208.43" y1="380.05" x2="208.43" y2="388.48" stroke="#000" stroke-width="2.4"/>
<line x1="205.53" y1="380.05" x2="211.33" y2="380.05" stroke="#000" stroke-width="2.0"/>
<line x1="205.53" y1="388.48" x2="211.33" y2="388.48" stroke="#000" stroke-width="2.0"/>
<circle cx="208.43" cy="384.27" r="2.9" fill="#000"/>
<line x1="223.06" y1="377.80" x2="223.06" y2="386.23" stroke="#000" stroke-width="2.4"/>
<line x1="220.16" y1="377.80" x2="225.96" y2="377.80" stroke="#000" stroke-width="2.0"/>
<line x1="220.16" y1="386.23" x2="225.96" y2="386.23" stroke="#000" stroke-width="2.0"/>
<circle cx="223.06" cy="382.02" r="2.9" fill="#000"/>
<line x1="237.69" y1="377.02" x2="237.69" y2="385.46" stroke="#000" stroke-width="2.4"/>
<line x1="234.79" y1="377.02" x2="240.59" y2="377.02" stroke="#000" stroke-width="2.0"/>
<line x1="234.79" y1="385.46" x2="240.59" y2="385.46" stroke="#000" stroke-width="2.0"/>
<circle cx="237.69" cy="381.24" r="2.9" fill="#000"/>
<polyline points="47.50,394.95 62.13,442.05 76.76,452.95 91.39,464.55 106.02,475.09 120.65,485.64" fill="none" stroke="#000" stroke-width="1.8" stroke-linejoin="miter"/>
<rect x="44.50" y="391.95" width="6.0" height="6.0" fill="#000"/>
<rect x="59.13" y="439.05" width="6.0" height="6.0" fill="#000"/>
<rect x="73.76" y="449.95" width="6.0" height="6.0" fill="#000"/>
<rect x="88.39" y="461.55" width="6.0" height="6.0" fill="#000"/>
<rect x="103.02" y="472.09" width="6.0" height="6.0" fill="#000"/>
<rect x="117.65" y="482.64" width="6.0" height="6.0" fill="#000"/>
<polyline points="47.50,394.95 62.13,493.37" fill="none" stroke="#000" stroke-width="1.8" stroke-linejoin="miter"/>
<line x1="62.13" y1="485.99" x2="62.13" y2="495.83" stroke="#000" stroke-width="2.4"/>
<line x1="59.23" y1="485.99" x2="65.03" y2="485.99" stroke="#000" stroke-width="2.0"/>
<line x1="59.23" y1="495.83" x2="65.03" y2="495.83" stroke="#000" stroke-width="2.0"/>
<polygon points="59.03,496.17 65.23,496.17 62.13,489.17" fill="#000"/>
<rect x="44.50" y="390.65" width="6.0" height="8.6" fill="#000"/>
<line x1="62.13" y1="439.94" x2="62.13" y2="444.16" stroke="#000" stroke-width="3"/>
<line x1="59.23" y1="439.94" x2="65.03" y2="439.94" stroke="#000" stroke-width="2.0"/>
<line x1="59.23" y1="444.16" x2="65.03" y2="444.16" stroke="#000" stroke-width="2.0"/>
<line x1="137.00" y1="460.80" x2="152.00" y2="460.80" stroke="#000" stroke-width="2.0"/>
<circle cx="144.50" cy="460.80" r="2.6" fill="#000"/>
<text transform="translate(159.30 463.70)" font-size="8.8" font-weight="bold" text-anchor="start" letter-spacing="0.25">TCD</text>
<line x1="137.00" y1="476.30" x2="152.00" y2="476.30" stroke="#000" stroke-width="2.0"/>
<rect x="141.60" y="473.40" width="5.8" height="5.8" fill="#000"/>
<text transform="translate(159.30 479.20)" font-size="8.8" font-weight="bold" text-anchor="start" letter-spacing="0.25">TCD+ <tspan font-style="italic">Fanca</tspan><tspan font-size="7.4" dy="-0.5">+</tspan><tspan font-style="italic" font-weight="normal">/</tspan><tspan font-size="7.4">+</tspan><tspan dy="0.5"> </tspan><tspan dx="2.1">T</tspan></text>
<line x1="137.00" y1="491.80" x2="152.00" y2="491.80" stroke="#000" stroke-width="2.0"/>
<polygon points="141.40,494.75 147.60,494.75 144.50,488.86" fill="#000"/>
<text transform="translate(159.30 494.70)" font-size="8.8" font-weight="bold" text-anchor="start" letter-spacing="0.25">TCD+<tspan font-style="italic">Fanca</tspan>-<tspan font-style="italic" font-weight="normal">/</tspan>- <tspan dx="2">T</tspan></text>
<line x1="304.30" y1="371.30" x2="304.30" y2="505.50" stroke="#000" stroke-width="1.8"/>
<line x1="301.10" y1="506.00" x2="304.30" y2="506.00" stroke="#000" stroke-width="1.3"/>
<text transform="translate(297.90 508.60) scale(0.92 1)" font-size="10" font-weight="bold" text-anchor="end">10</text>
<line x1="301.10" y1="475.75" x2="304.30" y2="475.75" stroke="#000" stroke-width="1.3"/>
<text transform="translate(297.90 478.35) scale(0.92 1)" font-size="10" font-weight="bold" text-anchor="end">15</text>
<line x1="301.10" y1="445.50" x2="304.30" y2="445.50" stroke="#000" stroke-width="1.3"/>
<text transform="translate(297.90 448.10) scale(0.92 1)" font-size="10" font-weight="bold" text-anchor="end">20</text>
<line x1="301.10" y1="415.25" x2="304.30" y2="415.25" stroke="#000" stroke-width="1.3"/>
<text transform="translate(297.90 417.85) scale(0.92 1)" font-size="10" font-weight="bold" text-anchor="end">25</text>
<line x1="301.10" y1="385.00" x2="304.30" y2="385.00" stroke="#000" stroke-width="1.3"/>
<text transform="translate(297.90 387.60) scale(0.92 1)" font-size="10" font-weight="bold" text-anchor="end">30</text>
<line x1="304.30" y1="505.50" x2="507.00" y2="505.50" stroke="#000" stroke-width="1.8"/>
<line x1="311.25" y1="505.50" x2="311.25" y2="509.00" stroke="#000" stroke-width="1.3"/>
<text transform="translate(312.65 517.20) rotate(-45) scale(0.96 1)" font-size="9.6" font-weight="bold" text-anchor="end">0</text>
<line x1="325.73" y1="505.50" x2="325.73" y2="509.00" stroke="#000" stroke-width="1.3"/>
<text transform="translate(327.13 517.20) rotate(-45) scale(0.96 1)" font-size="9.6" font-weight="bold" text-anchor="end">1</text>
<line x1="340.21" y1="505.50" x2="340.21" y2="509.00" stroke="#000" stroke-width="1.3"/>
<text transform="translate(341.61 517.20) rotate(-45) scale(0.96 1)" font-size="9.6" font-weight="bold" text-anchor="end">2</text>
<line x1="354.69" y1="505.50" x2="354.69" y2="509.00" stroke="#000" stroke-width="1.3"/>
<text transform="translate(356.09 517.20) rotate(-45) scale(0.96 1)" font-size="9.6" font-weight="bold" text-anchor="end">3</text>
<line x1="369.17" y1="505.50" x2="369.17" y2="509.00" stroke="#000" stroke-width="1.3"/>
<text transform="translate(370.57 517.20) rotate(-45) scale(0.96 1)" font-size="9.6" font-weight="bold" text-anchor="end">4</text>
<line x1="383.65" y1="505.50" x2="383.65" y2="509.00" stroke="#000" stroke-width="1.3"/>
<text transform="translate(385.05 517.20) rotate(-45) scale(0.96 1)" font-size="9.6" font-weight="bold" text-anchor="end">5</text>
<line x1="398.13" y1="505.50" x2="398.13" y2="509.00" stroke="#000" stroke-width="1.3"/>
<text transform="translate(399.53 517.20) rotate(-45) scale(0.96 1)" font-size="9.6" font-weight="bold" text-anchor="end">6</text>
<line x1="412.61" y1="505.50" x2="412.61" y2="509.00" stroke="#000" stroke-width="1.3"/>
<text transform="translate(414.01 517.20) rotate(-45) scale(0.96 1)" font-size="9.6" font-weight="bold" text-anchor="end">7</text>
<line x1="427.09" y1="505.50" x2="427.09" y2="509.00" stroke="#000" stroke-width="1.3"/>
<text transform="translate(428.49 517.20) rotate(-45) scale(0.96 1)" font-size="9.6" font-weight="bold" text-anchor="end">8</text>
<line x1="441.57" y1="505.50" x2="441.57" y2="509.00" stroke="#000" stroke-width="1.3"/>
<text transform="translate(442.97 517.20) rotate(-45) scale(0.96 1)" font-size="9.6" font-weight="bold" text-anchor="end">9</text>
<line x1="456.05" y1="505.50" x2="456.05" y2="509.00" stroke="#000" stroke-width="1.3"/>
<text transform="translate(457.45 517.20) rotate(-45) scale(0.96 1)" font-size="9.6" font-weight="bold" text-anchor="end">10</text>
<line x1="470.53" y1="505.50" x2="470.53" y2="509.00" stroke="#000" stroke-width="1.3"/>
<text transform="translate(471.93 517.20) rotate(-45) scale(0.96 1)" font-size="9.6" font-weight="bold" text-anchor="end">11</text>
<line x1="485.01" y1="505.50" x2="485.01" y2="509.00" stroke="#000" stroke-width="1.3"/>
<text transform="translate(486.41 517.20) rotate(-45) scale(0.96 1)" font-size="9.6" font-weight="bold" text-anchor="end">12</text>
<line x1="499.49" y1="505.50" x2="499.49" y2="509.00" stroke="#000" stroke-width="1.3"/>
<text transform="translate(500.89 517.20) rotate(-45) scale(0.96 1)" font-size="9.6" font-weight="bold" text-anchor="end">13</text>
<text transform="translate(405.20 540.30)" font-size="11.15" font-weight="bold" text-anchor="middle">Weeks after BMT</text>
<text transform="translate(279.80 436.90) rotate(-90)" font-size="13.5" font-weight="bold" text-anchor="middle">gram</text>
<polyline points="311.25,395.28 325.73,397.70 340.21,395.28 354.69,394.07 369.17,393.47 383.65,394.68 398.13,394.68 412.61,394.68 427.09,394.07 441.57,392.26 456.05,390.44 470.53,388.33 485.01,385.00 499.49,385.00" fill="none" stroke="#000" stroke-width="1.8" stroke-linejoin="miter"/>
<circle cx="311.25" cy="395.28" r="2.9" fill="#000"/>
<line x1="325.73" y1="393.77" x2="325.73" y2="401.64" stroke="#000" stroke-width="2.4"/>
<line x1="322.83" y1="393.77" x2="328.63" y2="393.77" stroke="#000" stroke-width="2.0"/>
<line x1="322.83" y1="401.64" x2="328.63" y2="401.64" stroke="#000" stroke-width="2.0"/>
<circle cx="325.73" cy="397.70" r="2.9" fill="#000"/>
<line x1="340.21" y1="391.35" x2="340.21" y2="399.22" stroke="#000" stroke-width="2.4"/>
<line x1="337.31" y1="391.35" x2="343.11" y2="391.35" stroke="#000" stroke-width="2.0"/>
<line x1="337.31" y1="399.22" x2="343.11" y2="399.22" stroke="#000" stroke-width="2.0"/>
<circle cx="340.21" cy="395.28" r="2.9" fill="#000"/>
<line x1="354.69" y1="390.14" x2="354.69" y2="398.01" stroke="#000" stroke-width="2.4"/>
<line x1="351.79" y1="390.14" x2="357.59" y2="390.14" stroke="#000" stroke-width="2.0"/>
<line x1="351.79" y1="398.01" x2="357.59" y2="398.01" stroke="#000" stroke-width="2.0"/>
<circle cx="354.69" cy="394.07" r="2.9" fill="#000"/>
<line x1="369.17" y1="389.54" x2="369.17" y2="397.40" stroke="#000" stroke-width="2.4"/>
<line x1="366.27" y1="389.54" x2="372.07" y2="389.54" stroke="#000" stroke-width="2.0"/>
<line x1="366.27" y1="397.40" x2="372.07" y2="397.40" stroke="#000" stroke-width="2.0"/>
<circle cx="369.17" cy="393.47" r="2.9" fill="#000"/>
<line x1="383.65" y1="390.75" x2="383.65" y2="398.61" stroke="#000" stroke-width="2.4"/>
<line x1="380.75" y1="390.75" x2="386.55" y2="390.75" stroke="#000" stroke-width="2.0"/>
<line x1="380.75" y1="398.61" x2="386.55" y2="398.61" stroke="#000" stroke-width="2.0"/>
<circle cx="383.65" cy="394.68" r="2.9" fill="#000"/>
<line x1="398.13" y1="390.75" x2="398.13" y2="398.61" stroke="#000" stroke-width="2.4"/>
<line x1="395.23" y1="390.75" x2="401.03" y2="390.75" stroke="#000" stroke-width="2.0"/>
<line x1="395.23" y1="398.61" x2="401.03" y2="398.61" stroke="#000" stroke-width="2.0"/>
<circle cx="398.13" cy="394.68" r="2.9" fill="#000"/>
<line x1="412.61" y1="390.75" x2="412.61" y2="398.61" stroke="#000" stroke-width="2.4"/>
<line x1="409.71" y1="390.75" x2="415.51" y2="390.75" stroke="#000" stroke-width="2.0"/>
<line x1="409.71" y1="398.61" x2="415.51" y2="398.61" stroke="#000" stroke-width="2.0"/>
<circle cx="412.61" cy="394.68" r="2.9" fill="#000"/>
<line x1="427.09" y1="390.14" x2="427.09" y2="398.01" stroke="#000" stroke-width="2.4"/>
<line x1="424.19" y1="390.14" x2="429.99" y2="390.14" stroke="#000" stroke-width="2.0"/>
<line x1="424.19" y1="398.01" x2="429.99" y2="398.01" stroke="#000" stroke-width="2.0"/>
<circle cx="427.09" cy="394.07" r="2.9" fill="#000"/>
<line x1="441.57" y1="388.33" x2="441.57" y2="396.19" stroke="#000" stroke-width="2.4"/>
<line x1="438.67" y1="388.33" x2="444.47" y2="388.33" stroke="#000" stroke-width="2.0"/>
<line x1="438.67" y1="396.19" x2="444.47" y2="396.19" stroke="#000" stroke-width="2.0"/>
<circle cx="441.57" cy="392.26" r="2.9" fill="#000"/>
<line x1="456.05" y1="386.51" x2="456.05" y2="394.38" stroke="#000" stroke-width="2.4"/>
<line x1="453.15" y1="386.51" x2="458.95" y2="386.51" stroke="#000" stroke-width="2.0"/>
<line x1="453.15" y1="394.38" x2="458.95" y2="394.38" stroke="#000" stroke-width="2.0"/>
<circle cx="456.05" cy="390.44" r="2.9" fill="#000"/>
<line x1="470.53" y1="384.40" x2="470.53" y2="392.26" stroke="#000" stroke-width="2.4"/>
<line x1="467.63" y1="384.40" x2="473.43" y2="384.40" stroke="#000" stroke-width="2.0"/>
<line x1="467.63" y1="392.26" x2="473.43" y2="392.26" stroke="#000" stroke-width="2.0"/>
<circle cx="470.53" cy="388.33" r="2.9" fill="#000"/>
<line x1="485.01" y1="381.07" x2="485.01" y2="388.93" stroke="#000" stroke-width="2.4"/>
<line x1="482.11" y1="381.07" x2="487.91" y2="381.07" stroke="#000" stroke-width="2.0"/>
<line x1="482.11" y1="388.93" x2="487.91" y2="388.93" stroke="#000" stroke-width="2.0"/>
<circle cx="485.01" cy="385.00" r="2.9" fill="#000"/>
<line x1="499.49" y1="381.07" x2="499.49" y2="388.93" stroke="#000" stroke-width="2.4"/>
<line x1="496.59" y1="381.07" x2="502.39" y2="381.07" stroke="#000" stroke-width="2.0"/>
<line x1="496.59" y1="388.93" x2="502.39" y2="388.93" stroke="#000" stroke-width="2.0"/>
<circle cx="499.49" cy="385.00" r="2.9" fill="#000"/>
<polyline points="311.25,395.28 325.73,427.95 340.21,453.97 354.69,464.25 369.17,466.07 383.65,470.31" fill="none" stroke="#000" stroke-width="1.8" stroke-linejoin="miter"/>
<line x1="325.73" y1="424.93" x2="325.73" y2="430.98" stroke="#000" stroke-width="2.4"/>
<line x1="322.83" y1="424.93" x2="328.63" y2="424.93" stroke="#000" stroke-width="2.0"/>
<line x1="322.83" y1="430.98" x2="328.63" y2="430.98" stroke="#000" stroke-width="2.0"/>
<rect x="308.25" y="392.28" width="6.0" height="6.0" fill="#000"/>
<rect x="322.73" y="424.95" width="6.0" height="6.0" fill="#000"/>
<rect x="337.21" y="450.97" width="6.0" height="6.0" fill="#000"/>
<rect x="351.69" y="461.25" width="6.0" height="6.0" fill="#000"/>
<rect x="366.17" y="463.07" width="6.0" height="6.0" fill="#000"/>
<rect x="380.65" y="467.31" width="6.0" height="6.0" fill="#000"/>
<polyline points="311.25,395.28 325.73,486.64" fill="none" stroke="#000" stroke-width="1.8" stroke-linejoin="miter"/>
<line x1="325.73" y1="480.59" x2="325.73" y2="487.85" stroke="#000" stroke-width="2.4"/>
<line x1="322.83" y1="480.59" x2="328.63" y2="480.59" stroke="#000" stroke-width="2.0"/>
<line x1="322.83" y1="487.85" x2="328.63" y2="487.85" stroke="#000" stroke-width="2.0"/>
<polygon points="322.63,490.14 328.83,490.14 325.73,483.14" fill="#000"/>
<rect x="308.25" y="390.98" width="6.0" height="8.6" fill="#000"/>
<rect x="322.83" y="423.06" width="5.8" height="9.8" fill="#000"/>
<line x1="399.50" y1="458.30" x2="413.80" y2="458.30" stroke="#000" stroke-width="2.0"/>
<circle cx="406.65" cy="458.30" r="2.6" fill="#000"/>
<text transform="translate(421.80 461.20)" font-size="8.8" font-weight="bold" text-anchor="start" letter-spacing="0.25">TCD</text>
<line x1="399.50" y1="473.80" x2="413.80" y2="473.80" stroke="#000" stroke-width="2.0"/>
<rect x="403.75" y="470.90" width="5.8" height="5.8" fill="#000"/>
<text transform="translate(421.80 476.70)" font-size="8.8" font-weight="bold" text-anchor="start" letter-spacing="0.25">TCD+<tspan font-style="italic">Fanca</tspan><tspan font-size="7.4" dy="-0.5">+</tspan><tspan font-style="italic" font-weight="normal">/</tspan><tspan font-size="7.4">+</tspan><tspan dy="0.5"> </tspan><tspan dx="1.3">T</tspan></text>
<line x1="399.50" y1="489.30" x2="413.80" y2="489.30" stroke="#000" stroke-width="2.0"/>
<polygon points="403.55,492.25 409.75,492.25 406.65,486.36" fill="#000"/>
<text transform="translate(421.80 492.20)" font-size="8.8" font-weight="bold" text-anchor="start" letter-spacing="0.25">TCD+ <tspan font-style="italic">Fancd2</tspan>-<tspan font-style="italic" font-weight="normal">/</tspan>- T</text>
</svg></body></html>
